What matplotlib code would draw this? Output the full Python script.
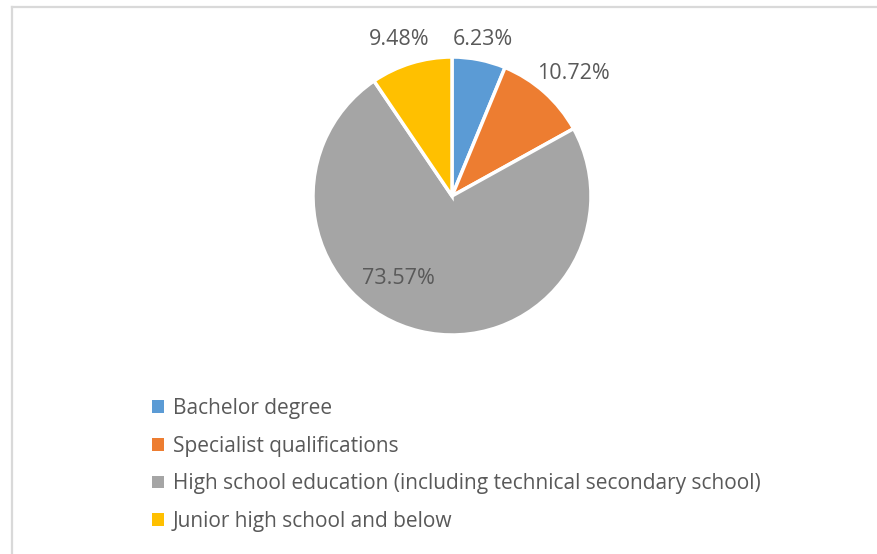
import matplotlib.pyplot as plt
import numpy as np
from matplotlib.patches import Patch
from matplotlib.lines import Line2D

categories = ['Bachelor degree',
              'Specialist qualifications',
              'High school education (including technical secondary school)',
              'Junior high school and below']
shares = [6.23, 10.72, 73.57, 9.48]
colors = ['#5B9BD5', '#ED7D31', '#A5A5A5', '#FFC000']

# label placement: radial distance and angle shift (deg) from wedge middle
label_r = [1.15, 1.24, 0.71, 1.19]
label_shift = [0, -3, -19.5, 1.4]

plt.rcParams['font.family'] = ['Open Sans', 'DejaVu Sans']
text_color = '#595959'

fig = plt.figure(figsize=(8.78, 5.54), dpi=100)
fig.patch.set_facecolor('white')

ax = fig.add_axes([313 / 878, (554 - 335) / 554, 278 / 878, 278 / 554])
wedges, _ = ax.pie(shares, colors=colors, startangle=90, counterclock=False,
                   radius=1, wedgeprops=dict(edgecolor='white', linewidth=2.5))
ax.set_xlim(-1, 1)
ax.set_ylim(-1, 1)
ax.axis('off')

for w, val, r, sh in zip(wedges, shares, label_r, label_shift):
    mid = np.deg2rad((w.theta1 + w.theta2) / 2 + sh)
    ax.text(r * np.cos(mid), r * np.sin(mid), f'{val:.2f}%',
            ha='center', va='center', fontsize=15.5, color=text_color)

handles = [Patch(facecolor=c, edgecolor='none') for c in colors]
leg = fig.legend(handles, categories, loc='upper left',
                 bbox_to_anchor=(152 / 878, 1 - 398 / 554),
                 frameon=False, fontsize=15, handlelength=0.6,
                 handleheight=0.55, handletextpad=0.4, labelspacing=0.8,
                 borderaxespad=0, borderpad=0)
for t in leg.get_texts():
    t.set_color(text_color)

# chart area border (top and left edges visible)
fig.add_artist(Line2D([12 / 878, 1], [1 - 6.5 / 554, 1 - 6.5 / 554],
                      color='#D9D9D9', linewidth=1.6))
fig.add_artist(Line2D([12 / 878, 12 / 878], [0, 1 - 6.5 / 554],
                      color='#D9D9D9', linewidth=1.6))

fig.savefig('out.png', dpi=100)
